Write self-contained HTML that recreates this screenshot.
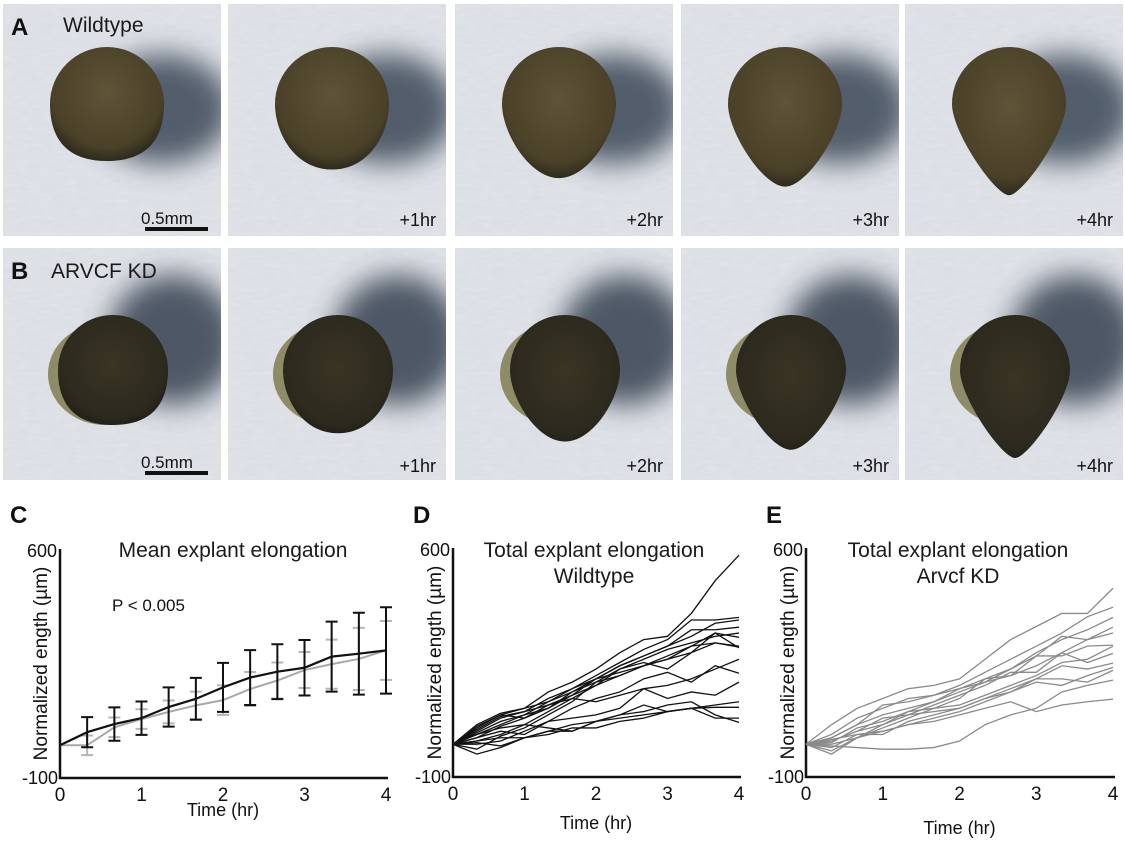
<!DOCTYPE html>
<html><head><meta charset="utf-8"><style>
body{margin:0;background:#fff;width:1125px;height:841px;overflow:hidden;font-family:"Liberation Sans",Arial,sans-serif}
svg text{font-family:"Liberation Sans",Arial,sans-serif}
</style></head><body>
<svg id="fig" width="1125" height="841" viewBox="0 0 1125 841" xmlns="http://www.w3.org/2000/svg">
<defs>
<filter id="blur" x="-100%" y="-100%" width="300%" height="300%"><feGaussianBlur stdDeviation="14"/></filter>
<filter id="tex" x="0" y="0" width="100%" height="100%"><feTurbulence type="fractalNoise" baseFrequency="0.08 0.25" numOctaves="2" seed="3"/><feColorMatrix values="0 0 0 0 0.85  0 0 0 0 0.87  0 0 0 0 0.9  0 0 0 0.4 0"/></filter>
<clipPath id="pclip"><rect x="0" y="0" width="218" height="232"/></clipPath>
<radialGradient id="wt" cx="50%" cy="40%" r="60%"><stop offset="0" stop-color="#5e5438"/><stop offset="0.8" stop-color="#4a4128"/><stop offset="1" stop-color="#2e2a1c"/></radialGradient>
<radialGradient id="kd" cx="50%" cy="45%" r="60%"><stop offset="0" stop-color="#3a3424"/><stop offset="0.8" stop-color="#2c2a1e"/><stop offset="1" stop-color="#1e1c14"/></radialGradient>
</defs>
<g id="photos"></g>
<g id="charts"></g>
</svg>
<script>
// ---------- chart data ----------
const times = [0,0.333,0.667,1,1.333,1.667,2,2.333,2.667,3,3.333,3.667,4];
const xTicks = [0,1,2,3,4];
const yTickLabels = ["600","-100"];
const wtMean = [0,40,65,83,117,142,177,207,225,237,271,280,290];
const wtErr  = [0,46,51,51,60,64,75,84,84,85,107,125,132];
const kdMean = [0,0,55,80,102,122,138,172,198,230,248,264,290];
const kdErr  = [0,30,30,30,35,42,45,52,55,55,75,95,90];
const wtSeries = [
[0,50,90,110,160,190,230,280,320,330,400,500,578],
[0,45,85,100,140,170,210,250,290,320,380,380,388],
[0,30,60,90,130,170,200,240,270,300,330,370,380],
[0,20,55,80,110,160,200,240,270,300,350,350,358],
[0,40,80,100,120,150,180,230,260,290,310,330,340],
[0,60,95,110,130,160,190,210,240,260,300,340,327],
[0,10,30,60,100,140,180,210,240,270,300,310,300],
[0,-15,25,50,90,130,190,230,250,230,280,310,297],
[0,35,70,90,110,150,200,220,240,260,280,340,295],
[0,20,40,30,70,110,140,160,200,220,190,240,217],
[0,0,10,40,70,80,90,110,170,140,160,150,190],
[0,10,20,20,40,40,70,90,120,100,110,113,113],
[0,-30,-10,20,40,60,70,80,90,100,110,80,80],
[0,30,50,60,50,40,70,90,100,120,130,90,67],
[0,5,-5,20,30,50,50,70,80,100,110,120,130],
[0,55,90,80,120,140,130,150,170,180,200,230,260]];
const kdSeries = [
[0,60,110,140,170,180,200,260,320,360,400,400,477],
[0,30,80,110,140,150,180,220,260,300,340,390,419],
[0,20,60,120,130,150,170,190,230,280,320,350,388],
[0,10,40,60,100,130,170,200,230,270,330,320,358],
[0,-30,20,50,80,110,140,200,210,240,280,320,340],
[0,20,60,90,110,130,160,190,210,270,270,300,303],
[0,10,40,80,90,120,150,180,220,220,280,250,278],
[0,-10,30,30,70,90,110,140,160,200,240,230,248],
[0,0,20,40,60,80,100,130,160,190,180,210,235],
[0,-20,20,60,90,100,110,140,170,200,200,190,226],
[0,-5,-10,-15,-15,-10,10,60,90,110,160,180,196],
[0,15,30,40,60,70,90,110,130,100,120,130,138],
[0,5,50,70,100,110,120,150,180,210,250,260,300]];
const hours = ["", "+1hr","+2hr","+3hr","+4hr"];

const NS="http://www.w3.org/2000/svg";
function mk(tag,attrs,parent){const e=document.createElementNS(NS,tag);for(const k in attrs)e.setAttribute(k,attrs[k]);parent.appendChild(e);return e;}

// ---------- photos ----------
const photos=document.getElementById('photos');
const colX=[3,228,455,681,905], rowY=[4,248], PW=218, PH=232;
for(let r=0;r<2;r++){for(let c=0;c<5;c++){
  const g=mk('g',{transform:`translate(${colX[c]},${rowY[r]})`},photos);
  
  
  const inner=mk('g',{'clip-path':'url(#pclip)'},g);
  mk('rect',{x:0,y:0,width:PW,height:PH,fill:'#d9dde3'},inner);
  mk('rect',{x:0,y:0,width:PW,height:PH,filter:'url(#tex)'},inner);
  const cx=r===0?104:110, cy=r===0?100:122, R=r===0?57:55;
  if(r===0) mk('ellipse',{cx:cx+55,cy:cy+5,rx:70,ry:55,fill:'#3a4656',opacity:0.85,filter:'url(#blur)'},inner);
  else mk('ellipse',{cx:cx+60,cy:cy-30,rx:65,ry:65,fill:'#34404f',opacity:0.85,filter:'url(#blur)'},inner);
  const w=R*(0.8-0.14*c), D=R*(1.0+0.15*c);
  const d=`M${cx-R},${cy} A${R},${R} 0 0 1 ${cx+R},${cy} C${cx+R},${cy+R*0.5} ${cx+w},${cy+D} ${cx},${cy+D} C${cx-w},${cy+D} ${cx-R},${cy+R*0.5} ${cx-R},${cy} Z`;
  if(r===1) mk('ellipse',{cx:cx-8,cy:cy+4,rx:R+2,ry:R-4,fill:'#8d8c66'},inner);
  mk('path',{d:d,fill:r===0?'url(#wt)':'url(#kd)'},inner);
  if(c===0){
    const t=mk('text',{x:138,y:220,'font-size':17,fill:'#111'},g);t.textContent='0.5mm';
    mk('rect',{x:142,y:223,width:63,height:4,fill:'#111'},g);
    const L=mk('text',{x:8,y:31,'font-size':24,'font-weight':'bold',fill:'#111'},g);L.textContent=r===0?'A':'B';
    
    
    const T=mk('text',{x:r===0?60:48,y:r===0?28:30,'font-size':21,fill:'#1a1a1a'},g);T.textContent=r===0?'Wildtype':'ARVCF KD';
  } else {
    const t=mk('text',{x:PW-10,y:r===0?222:224,'font-size':18,fill:'#111','text-anchor':'end'},g);t.textContent=hours[c];
    
    
  }
}}

// ---------- charts ----------
const charts=document.getElementById('charts');
function axes(cfg){
  const g=mk('g',{},charts);
  
  
  const sx=v=>cfg.x0+(cfg.x4-cfg.x0)*v/4;
  const sy=v=>cfg.yb+(cfg.yt-cfg.yb)*(v+100)/700;
  const L=mk('text',{x:cfg.lx,y:523,'font-size':24,'font-weight':'bold',fill:'#111'},g);L.textContent=cfg.letter;
  
  
  cfg.title.forEach((t,i)=>{const e=mk('text',{x:cfg.tx,y:557+i*26,'font-size':21,fill:'#1a1a1a','text-anchor':'middle'},g);e.textContent=t;
    
    });
  mk('path',{d:`M${cfg.x0},${cfg.yt} V${cfg.yb} H${cfg.x4+2}`,fill:'none',stroke:'#111','stroke-width':2.5},g);
  const t1=mk('text',{x:cfg.x0-3,y:cfg.yt+8,'font-size':18,'text-anchor':'end',fill:'#111'},g);t1.textContent=yTickLabels[0];
  
  
  const t2=mk('text',{x:cfg.x0-2,y:cfg.yb+6,'font-size':18,'text-anchor':'end',fill:'#111'},g);t2.textContent=yTickLabels[1];
  
  
  xTicks.forEach(v=>{const e=mk('text',{x:sx(v),y:cfg.yb+23,'font-size':19,'text-anchor':'middle',fill:'#111'},g);e.textContent=v;
    
    });
  const xl=mk('text',{x:(cfg.x0+cfg.x4)/2,y:cfg.xly,'font-size':18,'text-anchor':'middle',fill:'#111'},g);xl.textContent='Time (hr)';
  
  
  const yl=mk('text',{x:0,y:0,'font-size':19,'text-anchor':'middle',fill:'#111',transform:`translate(${cfg.ylx},${(cfg.yt+cfg.yb)/2}) rotate(-90)`},g);yl.textContent='Normalized ength (µm)';
  
  
  return {g,sx,sy};
}
function line(g,sx,sy,vals,color,w,name){
  const p=mk('polyline',{points:vals.map((v,i)=>sx(times[i])+','+sy(v)).join(' '),fill:'none',stroke:color,'stroke-width':w,'stroke-linejoin':'miter'},g);
  
  
}
function errbars(g,sx,sy,mean,err,color,w,name){
  mean.forEach((m,i)=>{if(i===0)return;const x=sx(times[i]);
    const e=mk('path',{d:`M${x},${sy(m-err[i])} V${sy(m+err[i])} M${x-6},${sy(m-err[i])} h12 M${x-6},${sy(m+err[i])} h12`,stroke:color,'stroke-width':w,fill:'none'},g);
    
    });
}
// C
{const c=axes({name:'mean-elongation-chart',letter:'C',lx:10,x0:60,x4:386,yt:549,yb:778,tx:233,title:['Mean explant elongation'],xly:816,ylx:47});
 const p=mk('text',{x:112,y:611,'font-size':17,fill:'#111'},c.g);p.textContent='P < 0.005';
 
 
 errbars(c.g,c.sx,c.sy,kdMean,kdErr,'#b5b5b5',2,'kd-error-bar');
 line(c.g,c.sx,c.sy,kdMean,'#a8a8a8',2,'kd-mean-line');
 errbars(c.g,c.sx,c.sy,wtMean,wtErr,'#111',2,'wt-error-bar');
 line(c.g,c.sx,c.sy,wtMean,'#111',2.2,'wt-mean-line');}
// D
{const c=axes({name:'wildtype-elongation-chart',letter:'D',lx:413,x0:453,x4:739,yt:548,yb:777,tx:594,title:['Total explant elongation','Wildtype'],xly:829,ylx:441});
 wtSeries.forEach(s=>line(c.g,c.sx,c.sy,s,'#111',1.3,'wildtype-explant-line'));}
// E
{const c=axes({name:'arvcf-kd-elongation-chart',letter:'E',lx:766,x0:806,x4:1113,yt:548,yb:777,tx:958,title:['Total explant elongation','Arvcf KD'],xly:834,ylx:794});
 kdSeries.forEach(s=>line(c.g,c.sx,c.sy,s,'#8a8a8a',1.3,'arvcf-kd-explant-line'));}
</script>
</body></html>
